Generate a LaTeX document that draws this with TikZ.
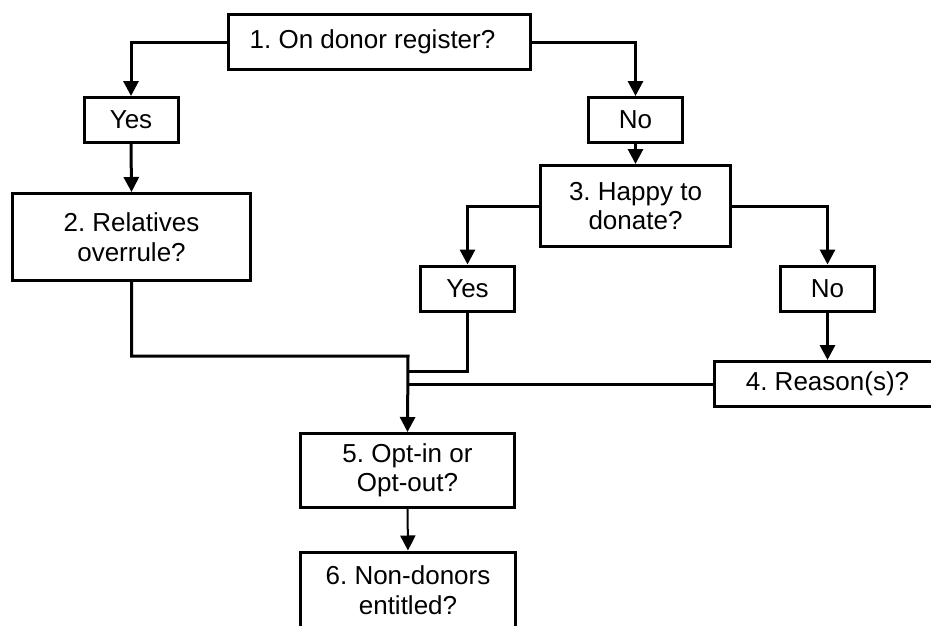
\documentclass[tikz,border=0pt]{standalone}
\usepackage{fontspec}
\setmainfont{Liberation Sans}
\usetikzlibrary{arrows.meta}
\begin{document}
\frenchspacing
\begin{tikzpicture}[x=1pt,y=-1pt,
  box/.style={draw=black, line width=3pt, fill=white, inner sep=0pt, align=center,
    font=\fontsize{26}{29.5}\selectfont},
  conn/.style={line width=3pt, -{Triangle[width=15pt,length=15pt]}},
  plain/.style={line width=3pt}]
\useasboundingbox (0,0) rectangle (931,625);
\clip (0,0) rectangle (931,625);
\node[box, minimum width=302pt, minimum height=55pt] (b1) at (379.5,42) {1. On donor register?\hspace*{14pt}};
\node[box, minimum width=94pt, minimum height=45pt] (y1) at (131,120) {Yes};
\node[box, minimum width=238pt, minimum height=87pt] (b2) at (131.5,237) {2. Relatives\\overrule?};
\node[box, minimum width=94pt, minimum height=45pt] (n1) at (635.5,120) {No};
\node[box, minimum width=190pt, minimum height=81pt] (b3) at (635.5,206) {3. Happy to\\donate?};
\node[box, minimum width=94pt, minimum height=45pt] (y2) at (467.5,288.5) {Yes};
\node[box, minimum width=94pt, minimum height=45pt] (n2) at (827.5,288.5) {No};
\node[box, minimum width=226pt, minimum height=45pt] (b4) at (827.5,384) {4. Reason(s)?};
\node[box, minimum width=214pt, minimum height=74pt] (b5) at (407.5,470.5) {5. Opt-in or\\Opt-out?};
\node[box, minimum width=215pt, minimum height=76pt] (b6) at (408,590) {6. Non-donors\\entitled?};
\coordinate (j1) at (408,356);
\coordinate (j2) at (408,371);
\draw[conn] (b1.west) -| (y1.north);
\draw[conn] (y1.south) -- (b2.north);
\draw[conn] (b1.east) -| (n1.north);
\draw[conn] (n1.south) -- (b3.north);
\draw[conn] (b3.west) -| (y2.north);
\draw[conn] (b3.east) -| (n2.north);
\draw[conn] (n2.south) -- (b4.north);
\draw[conn] (b2.south) |- (j1) -- (b5.north);
\draw[plain] (y2.south) |- (j2);
\draw[plain] (b4.west) -- (b4.west -| j1);
\draw[conn, line width=2pt] (b5.south) -- (b6.north);
\end{tikzpicture}
\end{document}
